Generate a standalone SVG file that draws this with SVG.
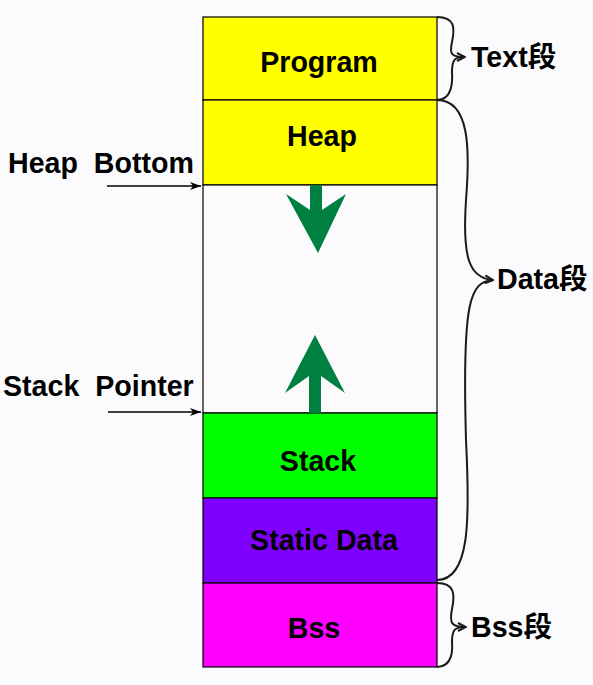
<svg xmlns="http://www.w3.org/2000/svg" width="593" height="685" viewBox="0 0 593 685">
<defs>
<style>
.t{font-family:"Liberation Sans",Arial,sans-serif;font-weight:bold;font-size:28.6px;fill:#000}
.c{text-anchor:middle}
.seg{stroke:#000;stroke-width:1.2}
.br{fill:none;stroke:#1a1a1a;stroke-width:2}
.pt{stroke:#000;stroke-width:1.5;fill:none}
</style>
<marker id="ah" markerWidth="10" markerHeight="10" refX="9" refY="5" orient="auto" markerUnits="userSpaceOnUse">
<path d="M1,1 L9,5 L1,9" fill="none" stroke="#1a1a1a" stroke-width="2"/>
</marker>
<marker id="pa" markerWidth="12" markerHeight="10" refX="11" refY="5" orient="auto" markerUnits="userSpaceOnUse">
<path d="M0,1 L11,5 L0,9 L3,5 Z" fill="#000"/>
</marker>
</defs>
<rect width="593" height="685" fill="#fbfbfd"/>
<g id="program"><rect class="seg" x="203" y="17" width="234" height="83" fill="#ffff00"/><text class="t c" x="319" y="72">Program</text></g>
<g id="heap"><rect class="seg" x="203" y="100" width="234" height="85" fill="#ffff00"/><text class="t c" x="322" y="146">Heap</text></g>
<g id="free"><rect class="seg" x="203" y="185" width="234" height="228" fill="#fbfbfd"/></g>
<g id="stack"><rect class="seg" x="203" y="413" width="234" height="85" fill="#00ff00"/><text class="t c" x="318" y="471">Stack</text></g>
<g id="static"><rect class="seg" x="203" y="498" width="234" height="85" fill="#8000ff"/><text class="t c" x="324" y="550">Static Data</text></g>
<g id="bss"><rect class="seg" x="203" y="583" width="234" height="84" fill="#ff00ff"/><text class="t c" x="314" y="638">Bss</text></g>
<g id="heap-arrow"><path d="M310,185 L322,185 L322,210 L346,194 L318,253 L286,194 L310,210 Z" fill="#008040"/></g>
<g id="stack-arrow"><path d="M309,413 L321,413 L321,376 L345,393 L315,335 L285,393 L309,376 Z" fill="#008040"/></g>
<g id="labels">
<text class="t" x="8" y="173" xml:space="preserve">Heap  Bottom</text>
<text class="t" x="3" y="396" xml:space="preserve">Stack  Pointer</text>
<text class="t" x="471" y="67">Text<tspan font-family="'Noto Sans CJK SC',sans-serif">段</tspan></text>
<text class="t" x="497" y="289">Data<tspan font-family="'Noto Sans CJK SC',sans-serif">段</tspan></text>
<text class="t" x="471" y="637">Bss<tspan font-family="'Noto Sans CJK SC',sans-serif">段</tspan></text>
</g>
<g id="connectors">
<line class="pt" x1="107" y1="186" x2="201" y2="186" marker-end="url(#pa)"/>
<line class="pt" x1="108" y1="412" x2="201" y2="412" marker-end="url(#pa)"/>
<path class="br" d="M437,17 C455,17 455,28 452,42 C449,55 452,57 465,57" marker-end="url(#ah)"/>
<path class="br" d="M437,100 C455,100 452,74 452,72 C452,59 455,57 465,57"/>
<path class="br" d="M437,100 C470,100 470,150 466,200 C462,260 470,278 493,280" marker-end="url(#ah)"/>
<path class="br" d="M437,580 C470,580 470,520 466,440 C462,300 470,282 493,280"/>
<path class="br" d="M437,583 C455,583 455,595 452,609 C449,624 452,627 466,627" marker-end="url(#ah)"/>
<path class="br" d="M437,667 C455,667 452,644 452,642 C452,629 455,627 466,627"/>
</g>
</svg>
